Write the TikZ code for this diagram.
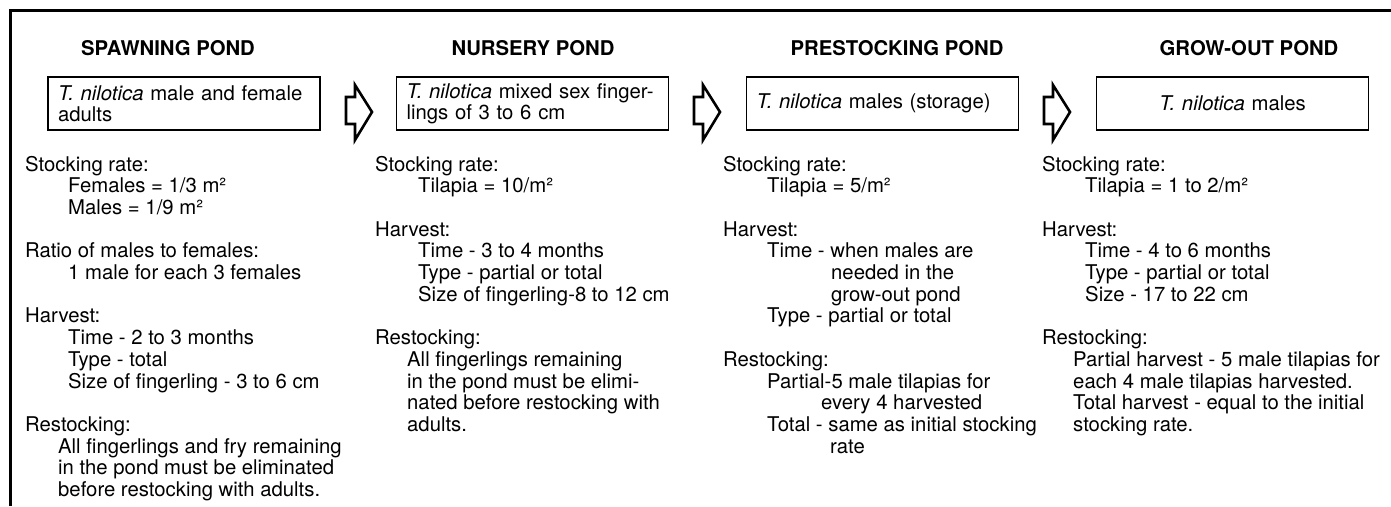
\documentclass[tikz,border=0pt]{standalone}
\usepackage{fontspec}
\setmainfont{TeX Gyre Heros}
\newcommand\txtline[4]{\node[txt] (#1) at (#2,{171+#3*21.7}) {#4};}
\newcommand\blockarrow[2]{\draw[barrow, xshift=#2pt] (346,97) -- (355,97) -- (355,85) -- (372,112) -- (355,140) -- (355,124) -- (346,124) -- cycle;}
\begin{document}
\begin{tikzpicture}[x=1pt,y=-1pt,
  txt/.style={font=\fontsize{20.3}{21.7}\selectfont, anchor=base west, inner sep=0pt},
  ttl/.style={font=\fontsize{20.3}{24}\selectfont\bfseries, anchor=base, inner sep=0pt},
  pbox/.style={draw, line width=1.9pt, inner xsep=10pt, inner ysep=0pt, minimum height=53pt,
    text width=252pt, font=\fontsize{20.3}{21}\selectfont},
  barrow/.style={draw, line width=2.6pt, line join=miter},
  frame/.style={line width=3pt}]
\useasboundingbox (0,0) rectangle (1391,506);
\fill[white] (0,0) rectangle (1391,506);
% frame
\draw[frame] (10.5,506) -- (10.5,10.5) -- (1391,10.5);
% titles
\node[ttl] (t1) at (168,55) {SPAWNING POND};
\node[ttl] (t2) at (533,55) {NURSERY POND};
\node[ttl] (t3) at (897,55) {PRESTOCKING POND};
\node[ttl] (t4) at (1249,55) {GROW-OUT POND};
% boxes
\node[pbox, align=left] (b1) at (184,103.5) {\textit{T. nilotica} male and female\\adults};
\node[pbox, align=left] (b2) at (532.5,103.5) {\textit{T. nilotica} mixed sex finger-\\lings of 3 to 6 cm};
\node[pbox, align=left] (b3) at (882.5,103.5) {\textit{T. nilotica} males (storage)};
\node[pbox, align=center] (b4) at (1232.5,103.5) {\textit{T. nilotica} males};
% block arrows
\blockarrow{a1}{0}
\blockarrow{a2}{348}
\blockarrow{a3}{698}
% column 1
\txtline{c1a}{25}{0}{Stocking rate:}
\txtline{c1b}{68}{1}{Females = 1/3 m²}
\txtline{c1c}{68}{2}{Males = 1/9 m²}
\txtline{c1d}{25}{4}{Ratio of males to females:}
\txtline{c1e}{68}{5}{1 male for each 3 females}
\txtline{c1f}{25}{7}{Harvest:}
\txtline{c1g}{68}{8}{Time - 2 to 3 months}
\txtline{c1h}{68}{9}{Type - total}
\txtline{c1i}{68}{10}{Size of fingerling - 3 to 6 cm}
\txtline{c1j}{25}{12}{Restocking:}
\txtline{c1k}{58}{13}{All fingerlings and fry remaining}
\txtline{c1l}{58}{14}{in the pond must be eliminated}
\txtline{c1m}{58}{15}{before restocking with adults.}
% column 2
\txtline{c2a}{375}{0}{Stocking rate:}
\txtline{c2b}{418}{1}{Tilapia = 10/m²}
\txtline{c2c}{375}{3}{Harvest:}
\txtline{c2d}{418}{4}{Time - 3 to 4 months}
\txtline{c2e}{418}{5}{Type - partial or total}
\txtline{c2f}{418}{6}{Size of fingerling-8 to 12 cm}
\txtline{c2g}{375}{8}{Restocking:}
\txtline{c2h}{407}{9}{All fingerlings remaining}
\txtline{c2i}{407}{10}{in the pond must be elimi-}
\txtline{c2j}{407}{11}{nated before restocking with}
\txtline{c2k}{407}{12}{adults.}
% column 3
\txtline{c3a}{723}{0}{Stocking rate:}
\txtline{c3b}{767}{1}{Tilapia = 5/m²}
\txtline{c3c}{723}{3}{Harvest:}
\txtline{c3d}{767}{4}{Time - when males are}
\txtline{c3e}{831}{5}{needed in the}
\txtline{c3f}{831}{6}{grow-out pond}
\txtline{c3g}{767}{7}{Type - partial or total}
\txtline{c3h}{723}{9}{Restocking:}
\txtline{c3i}{767}{10}{Partial-5 male tilapias for}
\txtline{c3j}{821}{11}{every 4 harvested}
\txtline{c3k}{767}{12}{Total - same as initial stocking}
\txtline{c3l}{830}{13}{rate}
% column 4
\txtline{c4a}{1042}{0}{Stocking rate:}
\txtline{c4b}{1085}{1}{Tilapia = 1 to 2/m²}
\txtline{c4c}{1042}{3}{Harvest:}
\txtline{c4d}{1085}{4}{Time - 4 to 6 months}
\txtline{c4e}{1085}{5}{Type - partial or total}
\txtline{c4f}{1085}{6}{Size - 17 to 22 cm}
\txtline{c4g}{1042}{8}{Restocking:}
\txtline{c4h}{1073}{9}{Partial harvest - 5 male tilapias for}
\txtline{c4i}{1073}{10}{each 4 male tilapias harvested.}
\txtline{c4j}{1073}{11}{Total harvest - equal to the initial}
\txtline{c4k}{1073}{12}{stocking rate.}
\end{tikzpicture}
\end{document}
